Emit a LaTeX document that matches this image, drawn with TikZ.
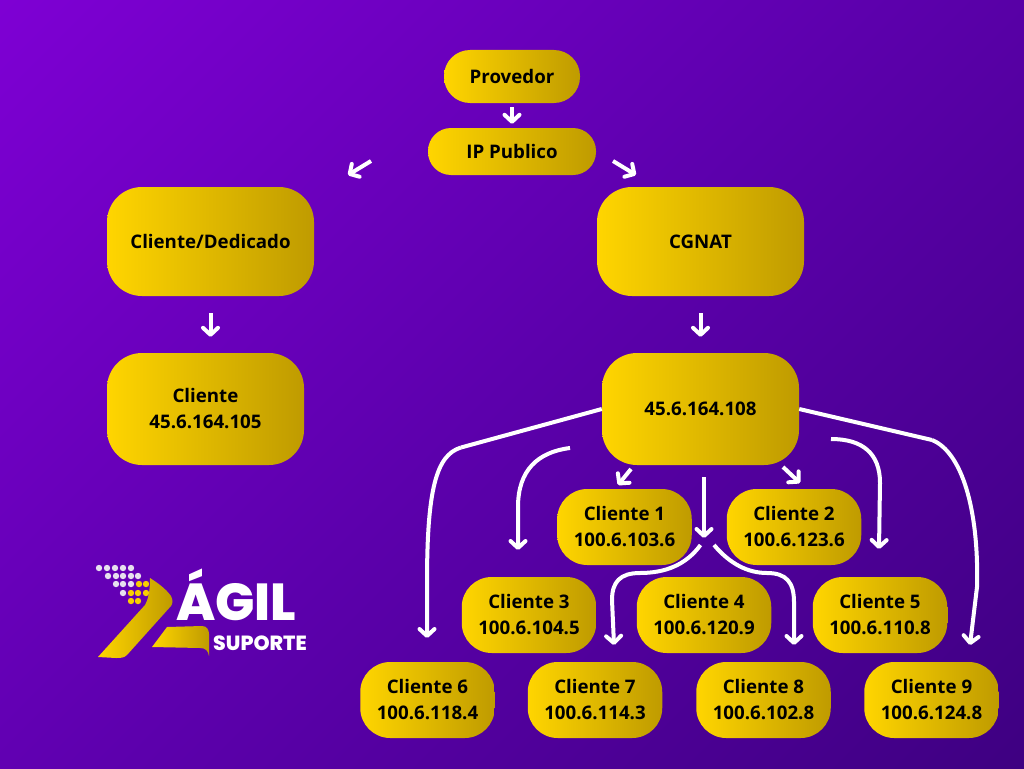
\documentclass[tikz,border=0pt]{standalone}
\usepackage{fontspec}
\setmainfont{Open Sans}
\newfontfamily\logofont{Poppins ExtraBold}
\usepackage{tikz}
\usetikzlibrary{arrows.meta}
\definecolor{fundoA}{HTML}{8C00E4}
\definecolor{fundoM}{HTML}{5C00AC}
\definecolor{fundoB}{HTML}{320070}
\definecolor{ouroA}{HTML}{FFD500}
\definecolor{ouroB}{HTML}{BF9B00}
\pgfdeclareverticalshading{fundo}{100bp}{color(0bp)=(fundoB); color(50bp)=(fundoM); color(100bp)=(fundoA)}
\pgfdeclarehorizontalshading{ouro}{100bp}{color(0bp)=(ouroA); color(25bp)=(ouroA); color(75bp)=(ouroB); color(100bp)=(ouroB)}
\tikzstyle{caixa}=[
        shade,
        shading=ouro,
        text=black,
        inner sep=0pt,
        align=center,
        font=\fontsize{18.7}{26}\selectfont\bfseries
]
\tikzstyle{pequena}=[
        caixa,
        rounded corners=30pt,
        minimum width=134.5pt,
        minimum height=76pt
]
\tikzstyle{grande}=[
        caixa,
        rounded corners=35pt
]
\tikzstyle{seta}=[
        draw=white,
        line width=4pt,
        -{Straight Barb[length=7pt,width=15pt,round,line width=4pt]}
]
\tikzstyle{linha}=[
        draw=white,
        line width=4pt
]

\begin{document}
\begin{tikzpicture}[x=1pt,y=-1pt]
                        \useasboundingbox (0,0) rectangle (1024,768);
                        \shade[shading=fundo,shading angle=45] (0,0) rectangle (1024,768);

                        \node[caixa,rounded corners=26pt,minimum width=136pt,minimum height=53pt] (prov) at (512,76.5) {Provedor};
                        \node[caixa,rounded corners=23pt,minimum width=168pt,minimum height=47pt] (ippub) at (512,151.5) {IP Publico};
                        \node[grande,minimum width=207pt,minimum height=109pt] (dedic) at (210.5,241.5) {Cliente/Dedicado};
                        \node[grande,minimum width=207pt,minimum height=109pt] (cgnat) at (700.5,241.5) {CGNAT};
                        \node[grande,minimum width=197pt,minimum height=112pt] (cli) at (205.5,409) {Cliente\\45.6.164.105};
                        \node[grande,minimum width=197pt,minimum height=112pt] (natip) at (700.5,409) {45.6.164.108};

                        \foreach \n/\ip/\x/\y in {1/103.6/624.5/527,2/123.6/794/527,3/104.5/529/615,
                                4/120.9/704/615,5/110.8/880/615,6/118.4/427.5/700,
                                7/114.3/595/700,8/102.8/763.5/700,9/124.8/931.5/700} {
                            \node[pequena] (c\n) at (\x,\y) {Cliente \n\\100.6.\ip};
                        }

                        \draw[seta,shorten <=4pt,shorten >=4pt] (prov.south) -- (ippub.north);
                        \coordinate (ipesq) at (371,161);
                        \coordinate (dedtopo) at (348,175);
                        \coordinate (ipdir) at (613,161);
                        \coordinate (cgtopo) at (636,175);
                        \draw[seta] (ipesq) -- (dedtopo);
                        \draw[seta] (ipdir) -- (cgtopo);
                        \draw[seta,shorten <=17pt,shorten >=16pt] (dedic.south) -- (dedic.south |- cli.north);
                        \draw[seta,shorten <=17pt,shorten >=16pt] (cgnat.south) -- (natip.north);

                        % saidas do 45.6.164.108
                        \coordinate (s1) at (631,469);
                        \coordinate (e1) at (618,485);
                        \coordinate (s2) at (783,467);
                        \coordinate (e2) at (800,483);
                        \coordinate (s3) at (570,448);
                        \coordinate (e3) at (518,550);
                        \coordinate (s4) at (704,477);
                        \coordinate (e4) at (704,538);
                        \coordinate (s5) at (831,439);
                        \coordinate (e5) at (879,549);
                        \coordinate (e6) at (427,638);
                        \coordinate (s7) at (700.5,545);
                        \coordinate (e7) at (614,645);
                        \coordinate (s8) at (714,545);
                        \coordinate (e8) at (794,645);
                        \coordinate (e9) at (970,645);
                        \coordinate (j6) at (461,447.5);
                        \coordinate (j9) at (932,440);

                        \draw[seta] (s1) -- (e1);
                        \draw[seta] (s2) -- (e2);
                        \draw[seta] (s4) -- (e4);
                        \draw[seta] (s3) .. controls (538,452) and (518,470) .. (518,507) -- (e3);
                        \draw[seta] (s5) .. controls (862,439) and (880,453) .. (880,483) -- (e5);
                        \draw[linha] (natip.west) -- (j6);
                        \draw[seta] (j6) .. controls (436,455) and (427,490) .. (427,583) -- (e6);
                        \draw[linha] (natip.east) -- (j9);
                        \draw[seta] (j9) .. controls (962,452) and (979,510) .. (977,587) -- (e9);
                        \draw[seta] (s7) .. controls (686,565) and (665,573) .. (640,573)
                                .. controls (620,573) and (612,582) .. (612,600) -- (e7);
                        \draw[seta] (s8) .. controls (730,564) and (748,573) .. (767,573)
                                .. controls (786,573) and (794,582) .. (794,602) -- (e8);

                        % logo
                        \foreach \x/\y in {99/568,107/568,115/568,123/568,131/568,
                                108/576,116/576,123/576,131/576,138/576,
                                116/584,123/584,131/584,123/593} {
                            \fill[white!88!fundoB] (\x,\y) circle (3.2);
                        }
                        \foreach \x/\y in {139/584,146/584,131/593,138/593,146/593,131/601,138/601} {
                            \fill[ouroA!90!ouroB] (\x,\y) circle (3.2);
                        }
                        \shade[shading=ouro] (98,657) -- (145,605)
                                .. controls (149,598) and (150,588) .. (150,578)
                                .. controls (158,583) and (166,589) .. (171,596)
                                .. controls (173,600) and (173,603) .. (171,606)
                                -- (127,655) .. controls (124,658) and (120,658) .. (116,658) -- cycle;
                        \shade[shading=ouro] (152,647) -- (167,627) -- (202,626)
                                .. controls (207,626) and (209,630) .. (209,634) -- (209,656)
                                .. controls (208,651) and (206,648) .. (200,648) -- cycle;
                        \node[white,inner sep=0pt,anchor=base west,font=\logofont\fontsize{52}{52}\selectfont] (agil) at (176,620) {ÁGIL};
                        \node[white,inner sep=0pt,anchor=base west,font=\logofont\fontsize{20.5}{21}\selectfont] (suporte) at (213,650) {SUPORTE};
\end{tikzpicture}
\end{document}
